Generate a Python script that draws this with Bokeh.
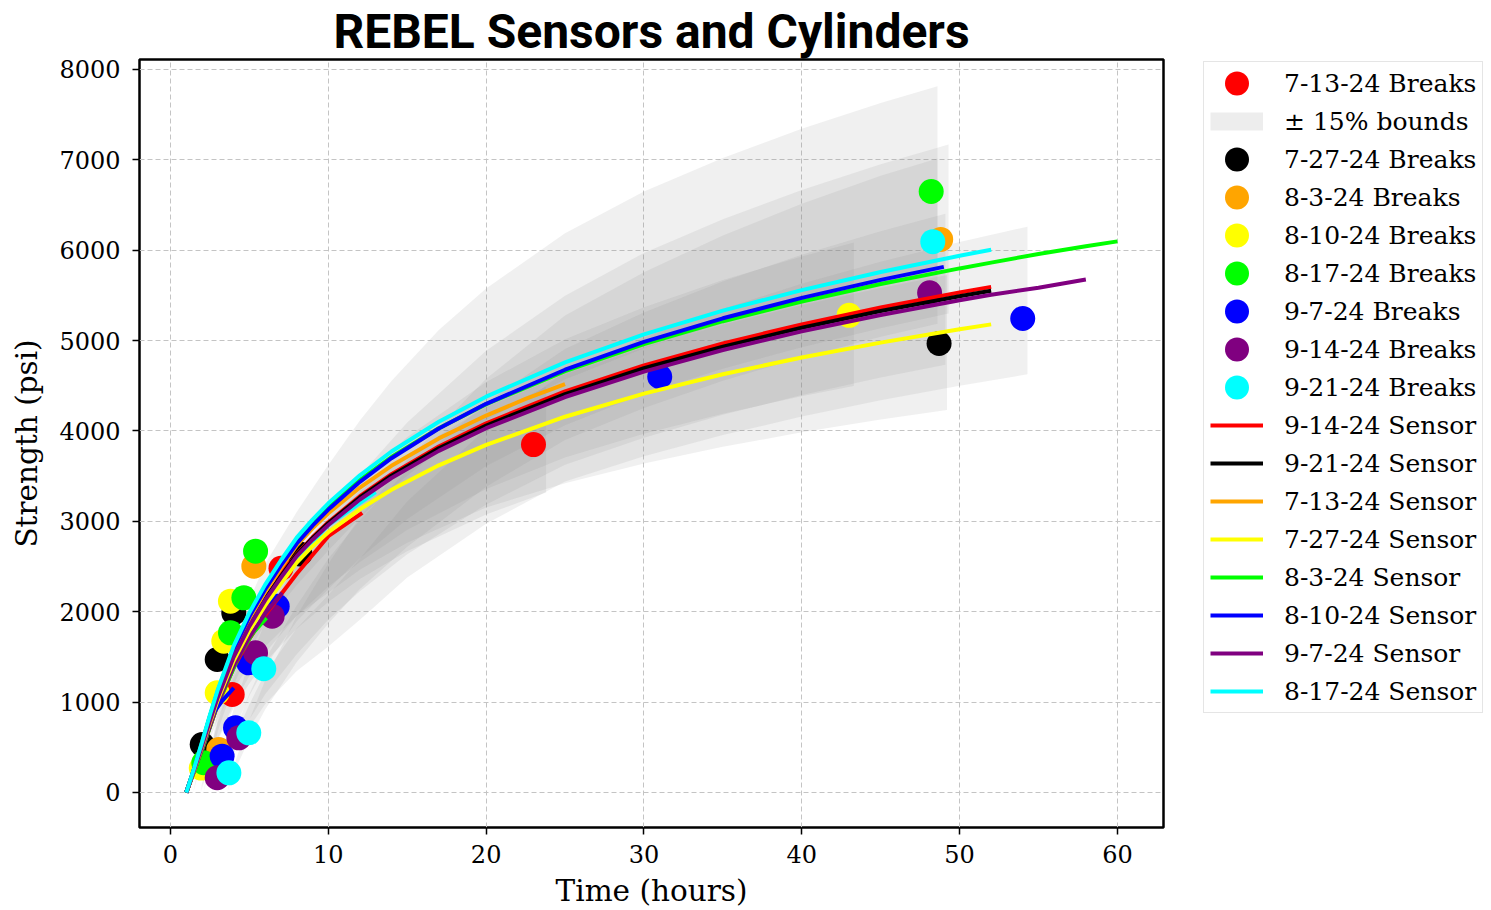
from bokeh.plotting import figure
from bokeh.models import Range1d, Legend, LegendItem, SingleIntervalTicker
from bokeh.embed import file_html
from bokeh.resources import INLINE

# ---------------- Break (cylinder) data ----------------
brk_7_13_x = [3.91, 7.0, 23.0]
brk_7_13_y = [1084, 2480, 3850]
brk_7_27_x = [2.01, 2.96, 4.01, 8.2, 48.7]
brk_7_27_y = [531, 1472, 1988, 2640, 4968]
brk_8_3_x = [3.06, 5.28, 48.8]
brk_8_3_y = [476, 2504, 6120]
brk_8_10_x = [1.95, 2.96, 3.38, 3.80, 43.0]
brk_8_10_y = [270, 1103, 1674, 2117, 5280]
brk_8_17_x = [2.11, 3.80, 4.65, 5.39, 48.2]
brk_8_17_y = [329, 1767, 2154, 2670, 6650]
brk_9_7_x = [3.27, 4.12, 4.96, 6.76, 31.0, 54.0]
brk_9_7_y = [402, 716, 1435, 2061, 4600, 5245]
brk_9_14_x = [2.96, 4.33, 5.39, 6.44, 48.1]
brk_9_14_y = [163, 605, 1546, 1951, 5530]
brk_9_21_x = [3.70, 4.96, 5.91, 48.3]
brk_9_21_y = [218, 660, 1369, 6095]

# ---------------- Fitted break curves (centre of the +/-15% bounds) ----------------
fit_7_13_x = [1.88, 2, 3, 4, 5, 6, 8, 10, 12, 15, 20, 23.8]
fit_7_13_y = [0, 90, 680, 1100, 1420, 1700, 2130, 2480, 2780, 3140, 3620, 3904]
fit_7_27_x = [1.44, 2, 3, 4, 5, 6, 8, 10, 12, 15, 20, 25, 30, 35, 40, 45, 49.2]
fit_7_27_y = [0, 420, 960, 1350, 1650, 1900, 2300, 2600, 2900, 3250, 3710, 4025, 4282, 4500, 4688, 4854, 4980]
fit_8_3_x = [2.8, 3, 4, 5, 6, 8, 10, 12, 15, 20, 25, 30, 35, 40, 45, 49.3]
fit_8_3_y = [0, 200, 800, 1260, 1640, 2230, 2650, 3050, 3560, 4250, 4780, 5192, 5516, 5797, 6044, 6236]
fit_8_10_x = [1.92, 2, 3, 4, 5, 6, 8, 10, 12, 15, 20, 25, 30, 35, 40, 43.3]
fit_8_10_y = [0, 60, 700, 1150, 1520, 1820, 2300, 2680, 3000, 3420, 3950, 4360, 4669, 4931, 5157, 5292]
fit_8_17_x = [2.1, 3, 4, 5, 6, 8, 10, 12, 14, 17, 20, 25, 30, 35, 40, 45, 48.6]
fit_8_17_y = [0, 800, 1400, 1850, 2200, 2700, 3150, 3580, 3960, 4450, 4850, 5380, 5783, 6106, 6387, 6634, 6796]
fit_9_7_x = [3.0, 4, 5, 6, 8, 10, 12, 15, 20, 25, 30, 35, 40, 45, 50, 54.3]
fit_9_7_y = [0, 500, 850, 1150, 1580, 1900, 2250, 2800, 3500, 4047, 4376, 4653, 4894, 5106, 5296, 5444]
fit_9_14_x = [3.0, 4, 5, 6, 8, 10, 12, 15, 20, 25, 30, 35, 40, 45, 49.1]
fit_9_14_y = [0, 550, 950, 1280, 1800, 2250, 2620, 3100, 3750, 4268, 4619, 4916, 5174, 5401, 5569]
fit_9_21_x = [3.6, 4, 5, 6, 8, 10, 12, 15, 20, 25, 30, 35, 40, 45, 48.6]
fit_9_21_y = [0, 250, 700, 1080, 1700, 2200, 2650, 3200, 3980, 4589, 5006, 5359, 5664, 5933, 6101]

# ---------------- Sensor curves ----------------
sen_x = [1, 1.5, 2, 2.5, 3, 4, 5, 6, 7, 8, 9, 10, 12, 14, 17, 20, 25, 30, 35, 40, 45, 50, 52]
sen_9_14_y = [0, 252, 523, 803, 1065, 1513, 1859, 2149, 2401, 2637, 2824, 2990, 3278, 3522, 3828, 4085, 4438, 4726, 4970, 5180, 5366, 5533, 5595]
sen_9_21_y = [0, 251, 521, 801, 1061, 1509, 1853, 2142, 2393, 2630, 2815, 2980, 3264, 3505, 3808, 4061, 4409, 4694, 4934, 5143, 5327, 5491, 5552]
sen_7_13_x = [1, 1.5, 2, 2.5, 3, 4, 5, 6, 7, 8, 9, 10, 12, 14, 17, 20, 22.5, 25]
sen_7_13_y = [0, 261, 541, 830, 1101, 1564, 1922, 2221, 2482, 2735, 2922, 3090, 3374, 3615, 3918, 4171, 4355, 4519]
sen_7_27_y = [0, 243, 504, 774, 1026, 1458, 1791, 2070, 2313, 2545, 2725, 2880, 3134, 3349, 3620, 3847, 4158, 4413, 4628, 4814, 4978, 5125, 5180]
sen_8_3_x = [1, 1.5, 2, 2.5, 3, 4, 5, 6, 7, 8, 9, 10, 12, 14, 17, 20, 25, 30, 35, 40, 45, 50, 52, 55, 58, 60]
sen_8_3_y = [0, 267, 553, 849, 1126, 1600, 1965, 2271, 2538, 2792, 2987, 3160, 3459, 3712, 4030, 4297, 4663, 4962, 5215, 5433, 5627, 5799, 5863, 5959, 6045, 6098]
sen_8_10_x = [1, 1.5, 2, 2.5, 3, 4, 5, 6, 7, 8, 9, 10, 12, 14, 17, 20, 25, 30, 35, 40, 45, 49]
sen_8_10_y = [0, 264, 548, 841, 1115, 1585, 1947, 2250, 2514, 2755, 2952, 3130, 3438, 3699, 4027, 4301, 4678, 4987, 5247, 5473, 5672, 5816]
sen_9_7_x = [1, 1.5, 2, 2.5, 3, 4, 5, 6, 7, 8, 9, 10, 12, 14, 17, 20, 25, 30, 35, 40, 45, 50, 52, 55, 58]
sen_9_7_y = [0, 250, 518, 796, 1055, 1499, 1841, 2128, 2377, 2615, 2797, 2960, 3242, 3480, 3780, 4031, 4376, 4657, 4896, 5102, 5284, 5447, 5507, 5586, 5676]
sen_8_17_y = [0, 270, 560, 860, 1140, 1620, 1990, 2300, 2570, 2820, 3020, 3200, 3510, 3773, 4103, 4380, 4760, 5070, 5332, 5559, 5760, 5939, 6006]

# short (truncated) sensor traces seen under the main curves
short_blue_x = [1, 1.5, 2, 2.64, 3.3, 4.01]
short_blue_y = [0, 250, 520, 863, 1020, 1158]
short_green_x = [1, 2, 3, 4.33, 5.2, 6.08]
short_green_y = [0, 470, 980, 1508, 1760, 1933]
short_purple_x = [1, 2, 3, 4, 5, 6, 7.07]
short_purple_y = [0, 480, 990, 1400, 1720, 1980, 2210]
short_red_x = [1, 2, 3, 4, 5, 6, 8, 10, 12.15]
short_red_y = [0, 480, 975, 1380, 1700, 1965, 2420, 2836, 3095]
short_cyan_x = [1, 2, 3, 4, 5, 6, 8, 10, 13.0]
short_cyan_y = [0, 500, 1030, 1465, 1805, 2085, 2565, 2960, 3325]

break_labels = ["7-13-24 Breaks", "7-27-24 Breaks", "8-3-24 Breaks", "8-10-24 Breaks",
                "8-17-24 Breaks", "9-7-24 Breaks", "9-14-24 Breaks", "9-21-24 Breaks"]
sensor_labels = ["9-14-24 Sensor", "9-21-24 Sensor", "7-13-24 Sensor", "7-27-24 Sensor",
                 "8-3-24 Sensor", "8-10-24 Sensor", "9-7-24 Sensor", "8-17-24 Sensor"]

C_RED, C_BLACK, C_ORANGE, C_YELLOW = "#ff0000", "#000000", "#ffa500", "#ffff00"
C_GREEN, C_BLUE, C_PURPLE, C_CYAN = "#00ff00", "#0000ff", "#800080", "#00ffff"

SERIF = "DejaVu Serif"

p = figure(frame_width=1024, frame_height=768, output_backend="svg", toolbar_location=None,
           x_range=Range1d(-1.964, 62.92), y_range=Range1d(-387.3, 8110.6),
           min_border_left=139, min_border_right=0, min_border_top=0, min_border_bottom=82)

p.title.text = "REBEL Sensors and Cylinders"
p.title.align = "center"
p.title.text_font = "Roboto"
p.title.text_font_style = "bold"
p.title.text_font_size = "48px"
p.title.text_color = "black"
p.title.standoff = 0
p.title.offset = 0

p.background_fill_color = "white"
p.border_fill_color = "white"
p.outline_line_color = "black"
p.outline_line_width = 2.5
p.outline_line_alpha = 1.0

# axes
p.xaxis.ticker = SingleIntervalTicker(interval=10, num_minor_ticks=0)
p.yaxis.ticker = SingleIntervalTicker(interval=1000, num_minor_ticks=0)
for ax in (p.xaxis, p.yaxis):
    ax.axis_line_color = None
    ax.major_tick_line_color = "black"
    ax.major_tick_line_width = 1.5
    ax.major_tick_out = 7
    ax.major_tick_in = 0
    ax.minor_tick_line_color = None
    ax.major_label_text_font = SERIF
    ax.major_label_text_font_size = "24px"
    ax.major_label_text_color = "black"
    ax.axis_label_text_font = SERIF
    ax.axis_label_text_font_size = "29.5px"
    ax.axis_label_text_font_style = "normal"
    ax.axis_label_text_color = "black"
p.xaxis.axis_label = "Time (hours)"
p.yaxis.axis_label = "Strength (psi)"
p.xaxis.major_label_standoff = 10
p.yaxis.major_label_standoff = 12
p.xaxis.axis_label_standoff = 8
p.yaxis.axis_label_standoff = 12

for g in (p.xgrid, p.ygrid):
    g.grid_line_color = "#c4c4c4"
    g.grid_line_dash = "5 3"
    g.grid_line_width = 1

# +/-15% bounds
fits = [(fit_7_13_x, fit_7_13_y), (fit_7_27_x, fit_7_27_y), (fit_8_3_x, fit_8_3_y),
        (fit_8_10_x, fit_8_10_y), (fit_8_17_x, fit_8_17_y), (fit_9_7_x, fit_9_7_y),
        (fit_9_14_x, fit_9_14_y), (fit_9_21_x, fit_9_21_y)]
for fx, fy in fits:
    p.varea(x=fx, y1=[v * 0.85 for v in fy], y2=[v * 1.15 for v in fy],
            fill_color="#808080", fill_alpha=0.12)

# break points (circles of fixed screen diameter)
breaks = [(brk_7_13_x, brk_7_13_y, C_RED), (brk_7_27_x, brk_7_27_y, C_BLACK),
          (brk_8_3_x, brk_8_3_y, C_ORANGE), (brk_8_10_x, brk_8_10_y, C_YELLOW),
          (brk_8_17_x, brk_8_17_y, C_GREEN), (brk_9_7_x, brk_9_7_y, C_BLUE),
          (brk_9_14_x, brk_9_14_y, C_PURPLE), (brk_9_21_x, brk_9_21_y, C_CYAN)]
brk_r = []
for bx, by, c in breaks:
    brk_r.append(p.ellipse(x=bx, y=by, width=25, height=25, width_units="screen",
                           height_units="screen", fill_color=c, line_color=None))

LW = 4
for sx, sy, c in [(short_red_x, short_red_y, C_RED), (short_cyan_x, short_cyan_y, C_CYAN),
                  (short_green_x, short_green_y, C_GREEN), (short_purple_x, short_purple_y, C_PURPLE),
                  (short_blue_x, short_blue_y, C_BLUE)]:
    p.line(sx, sy, line_color=c, line_width=LW)

sens = [(sen_x, sen_9_14_y, C_RED), (sen_x, sen_9_21_y, C_BLACK), (sen_7_13_x, sen_7_13_y, C_ORANGE),
        (sen_x, sen_7_27_y, C_YELLOW), (sen_8_3_x, sen_8_3_y, C_GREEN), (sen_8_10_x, sen_8_10_y, C_BLUE),
        (sen_9_7_x, sen_9_7_y, C_PURPLE), (sen_x, sen_8_17_y, C_CYAN)]
sen_r = []
for sx, sy, c in sens:
    sen_r.append(p.line(sx, sy, line_color=c, line_width=LW))

# legend swatch for the bounds: a thick light line placed outside the visible range
bound_swatch = p.line(x=[-50, -49], y=[-5000, -5000], line_color="#ededed", line_width=18)

items = [LegendItem(label=break_labels[0], renderers=[brk_r[0]]),
         LegendItem(label="\u00b1 15% bounds", renderers=[bound_swatch])]
for lab, r in zip(break_labels[1:], brk_r[1:]):
    items.append(LegendItem(label=lab, renderers=[r]))
for lab, r in zip(sensor_labels, sen_r):
    items.append(LegendItem(label=lab, renderers=[r]))

legend = Legend(items=items, location=(40, 114))
legend.label_text_font = SERIF
legend.label_text_font_size = "25px"
legend.label_text_color = "black"
legend.glyph_width = 53
legend.glyph_height = 30
legend.label_height = 30
legend.spacing = 8
legend.padding = 6
legend.margin = 0
legend.label_standoff = 21
legend.border_line_color = "#cccccc"
legend.border_line_width = 1
legend.background_fill_color = "white"
legend.background_fill_alpha = 1.0
p.add_layout(legend, "right")

open("out.html", "w").write(file_html(p, INLINE))
